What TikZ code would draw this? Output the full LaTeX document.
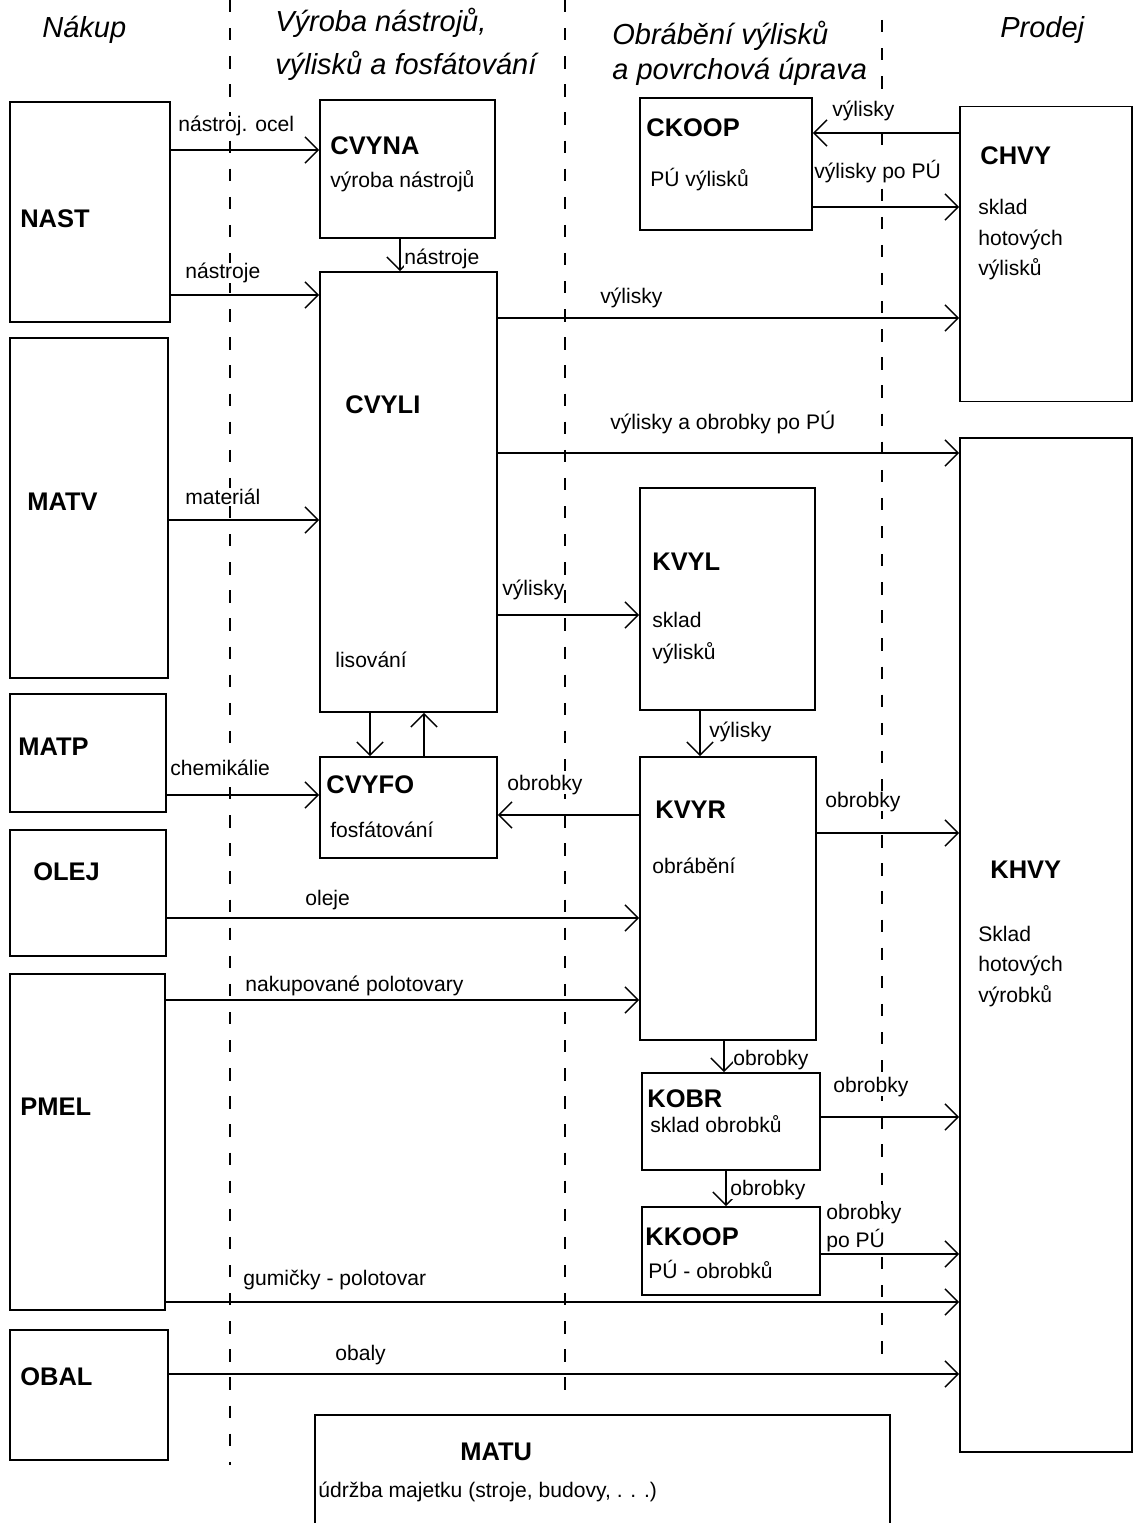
\documentclass[tikz,border=0pt]{standalone}
\usepackage{fontspec}
\setmainfont{Liberation Sans}
\usetikzlibrary{arrows.meta}

\begin{document}
\begin{tikzpicture}[x=0.02cm,y=-0.02cm,
  box/.style={draw,line width=1pt,rectangle,inner sep=0pt},
  boxname/.style={anchor=base west,inner sep=0pt,font=\fontsize{14.5}{17}\selectfont\bfseries},
  boxtext/.style={anchor=base west,inner sep=0pt,font=\fontsize{12}{14}\selectfont},
  lbl/.style={anchor=base west,inner sep=0pt,fill=white,font=\fontsize{12}{14}\selectfont},
  heading/.style={anchor=base west,inner sep=0pt,font=\fontsize{16.5}{20}\selectfont\itshape},
  flow/.style={-{Straight Barb[length=7.5pt,width=15pt]},line width=0.8pt},
  divider/.style={line width=0.9pt,dash pattern=on 7pt off 9pt}]
\useasboundingbox (0,0) rectangle (1134,1523);
\fill[white] (0,0) rectangle (1134,1523);
\clip (0,0) rectangle (1134,1523);

\draw[divider] (230,0) -- (230,1465);
\draw[divider] (565,0) -- (565,1400);
\draw[divider] (882,20) -- (882,1360);

\node[heading] (hnakup) at (42,38) {Nákup};
\node[heading] (hvyroba) at (275,32) {Výroba nástrojů,};
\node[heading] (hvyroba2) at (275,75) {výlisků a fosfátování};
\node[heading] (hobrab) at (612,45) {Obrábění výlisků};
\node[heading] (hobrab2) at (612,80) {a povrchová úprava};
\node[heading] (hprodej) at (1000,38) {Prodej};

\node[box,minimum width=3.2cm,minimum height=4.4cm] (nast) at (90,212) {};
\node[box,minimum width=3.16cm,minimum height=6.8cm] (matv) at (89,508) {};
\node[box,minimum width=3.12cm,minimum height=2.36cm] (matp) at (88,753) {};
\node[box,minimum width=3.12cm,minimum height=2.52cm] (olej) at (88,893) {};
\node[box,minimum width=3.1cm,minimum height=6.72cm] (pmel) at (87.5,1142) {};
\node[box,minimum width=3.16cm,minimum height=2.6cm] (obal) at (89,1395) {};
\node[box,minimum width=3.5cm,minimum height=2.76cm] (cvyna) at (407.5,169) {};
\node[box,minimum width=3.54cm,minimum height=8.8cm] (cvyli) at (408.5,492) {};
\node[box,minimum width=3.54cm,minimum height=2.02cm] (cvyfo) at (408.5,807.5) {};
\node[box,minimum width=3.44cm,minimum height=2.64cm] (ckoop) at (726,164) {};
\node[box,minimum width=3.5cm,minimum height=4.44cm] (kvyl) at (727.5,599) {};
\node[box,minimum width=3.52cm,minimum height=5.66cm] (kvyr) at (728,898.5) {};
\node[box,minimum width=3.56cm,minimum height=1.94cm] (kobr) at (731,1121.5) {};
\node[box,minimum width=3.56cm,minimum height=1.76cm] (kkoop) at (731,1251) {};
\node[box,minimum width=3.44cm,minimum height=5.9cm] (chvy) at (1046,254) {};
\node[box,minimum width=3.44cm,minimum height=20.28cm] (khvy) at (1046,945) {};
\node[box,minimum width=11.5cm,minimum height=2.5cm] (matu) at (602.5,1477.5) {};

\node[boxname] (nastT) at (20,228) {NAST};
\node[boxname] (matvT) at (27,510) {MATV};
\node[boxname] (matpT) at (18,755) {MATP};
\node[boxname] (olejT) at (33,880) {OLEJ};
\node[boxname] (pmelT) at (20,1115) {PMEL};
\node[boxname] (obalT) at (20,1385) {OBAL};
\node[boxname] (cvynaT) at (330,155) {CVYNA};
\node[boxtext] (cvynaS) at (330,188) {výroba nástrojů};
\node[boxname] (cvyliT) at (345,413) {CVYLI};
\node[boxtext] (cvyliS) at (335,667) {lisování};
\node[boxname] (cvyfoT) at (326,793) {CVYFO};
\node[boxtext] (cvyfoS) at (330,837) {fosfátování};
\node[boxname] (ckoopT) at (646,137) {CKOOP};
\node[boxtext] (ckoopS) at (650,187) {PÚ výlisků};
\node[boxname] (kvylT) at (652,570) {KVYL};
\node[boxtext] (kvylS) at (652,627) {sklad};
\node[boxtext] (kvylS2) at (652,659) {výlisků};
\node[boxname] (kvyrT) at (655,818) {KVYR};
\node[boxtext] (kvyrS) at (652,873) {obrábění};
\node[boxname] (kobrT) at (647,1107) {KOBR};
\node[boxtext] (kobrS) at (650,1132) {sklad obrobků};
\node[boxname] (kkoopT) at (645,1245) {KKOOP};
\node[boxtext] (kkoopS) at (648,1278) {PÚ - obrobků};
\node[boxname] (chvyT) at (980,165) {CHVY};
\node[boxtext] (chvyS) at (978,215) {sklad};
\node[boxtext] (chvyS2) at (978,246) {hotových};
\node[boxtext] (chvyS3) at (978,276) {výlisků};
\node[boxname] (khvyT) at (990,878) {KHVY};
\node[boxtext] (khvyS) at (978,941) {Sklad};
\node[boxtext] (khvyS2) at (978,971) {hotových};
\node[boxtext] (khvyS3) at (978,1002) {výrobků};
\node[boxname] (matuT) at (460,1460) {MATU};
\node[boxtext] (matuS) at (318,1497) {údržba majetku (stroje, budovy, . . .)};

\draw[flow] (nast.east |- 0,150) -- (cvyna.west |- 0,150);
\draw[flow] (nast.east |- 0,295) -- (cvyli.west |- 0,295);
\draw[flow] (cvyna.south -| 400,0) -- (cvyli.north -| 400,0);
\draw[flow] (cvyli.east |- 0,318) -- (chvy.west |- 0,318);
\draw[flow] (cvyli.east |- 0,453) -- (khvy.west |- 0,453);
\draw[flow] (matv.east |- 0,520) -- (cvyli.west |- 0,520);
\draw[flow] (cvyli.east |- 0,615) -- (kvyl.west |- 0,615);
\draw[flow] (cvyli.south -| 370,0) -- (cvyfo.north -| 370,0);
\draw[flow] (cvyfo.north -| 424,0) -- (cvyli.south -| 424,0);
\draw[flow] (matp.east |- 0,795) -- (cvyfo.west |- 0,795);
\draw[flow] (kvyr.west |- 0,815) -- (cvyfo.east |- 0,815);
\draw[flow] (kvyl.south -| 700,0) -- (kvyr.north -| 700,0);
\draw[flow] (kvyr.east |- 0,833) -- (khvy.west |- 0,833);
\draw[flow] (olej.east |- 0,918) -- (kvyr.west |- 0,918);
\draw[flow] (pmel.east |- 0,1000) -- (kvyr.west |- 0,1000);
\draw[flow] (kvyr.south -| 724,0) -- (kobr.north -| 724,0);
\draw[flow] (kobr.east |- 0,1117) -- (khvy.west |- 0,1117);
\draw[flow] (kobr.south -| 726,0) -- (kkoop.north -| 726,0);
\draw[flow] (kkoop.east |- 0,1254) -- (khvy.west |- 0,1254);
\draw[flow] (pmel.east |- 0,1302) -- (khvy.west |- 0,1302);
\draw[flow] (obal.east |- 0,1374) -- (khvy.west |- 0,1374);
\draw[flow] (chvy.west |- 0,133) -- (ckoop.east |- 0,133);
\draw[flow] (ckoop.east |- 0,207) -- (chvy.west |- 0,207);

\node[lbl] (l1) at (178,132) {nástroj. ocel};
\node[lbl] (l2) at (185,279) {nástroje};
\node[lbl] (l3) at (404,265) {nástroje};
\node[lbl] (l4) at (600,304) {výlisky};
\node[lbl] (l5) at (610,429) {výlisky a obrobky po PÚ};
\node[lbl] (l6) at (185,504) {materiál};
\node[lbl] (l7) at (502,595) {výlisky};
\node[lbl] (l8) at (170,775) {chemikálie};
\node[lbl] (l9) at (507,790) {obrobky};
\node[lbl] (l10) at (709,737) {výlisky};
\node[lbl] (l11) at (825,807) {obrobky};
\node[lbl] (l12) at (305,905) {oleje};
\node[lbl] (l13) at (245,991) {nakupované polotovary};
\node[lbl] (l14) at (733,1065) {obrobky};
\node[lbl] (l15) at (833,1092) {obrobky};
\node[lbl] (l16) at (730,1195) {obrobky};
\node[lbl] (l17) at (826,1219) {obrobky};
\node[lbl] (l18) at (826,1247) {po PÚ};
\node[lbl] (l19) at (243,1285) {gumičky - polotovar};
\node[lbl] (l20) at (335,1360) {obaly};
\node[lbl] (l21) at (832,117) {výlisky};
\node[lbl] (l22) at (814,179) {výlisky po PÚ};
\end{tikzpicture}
\end{document}
